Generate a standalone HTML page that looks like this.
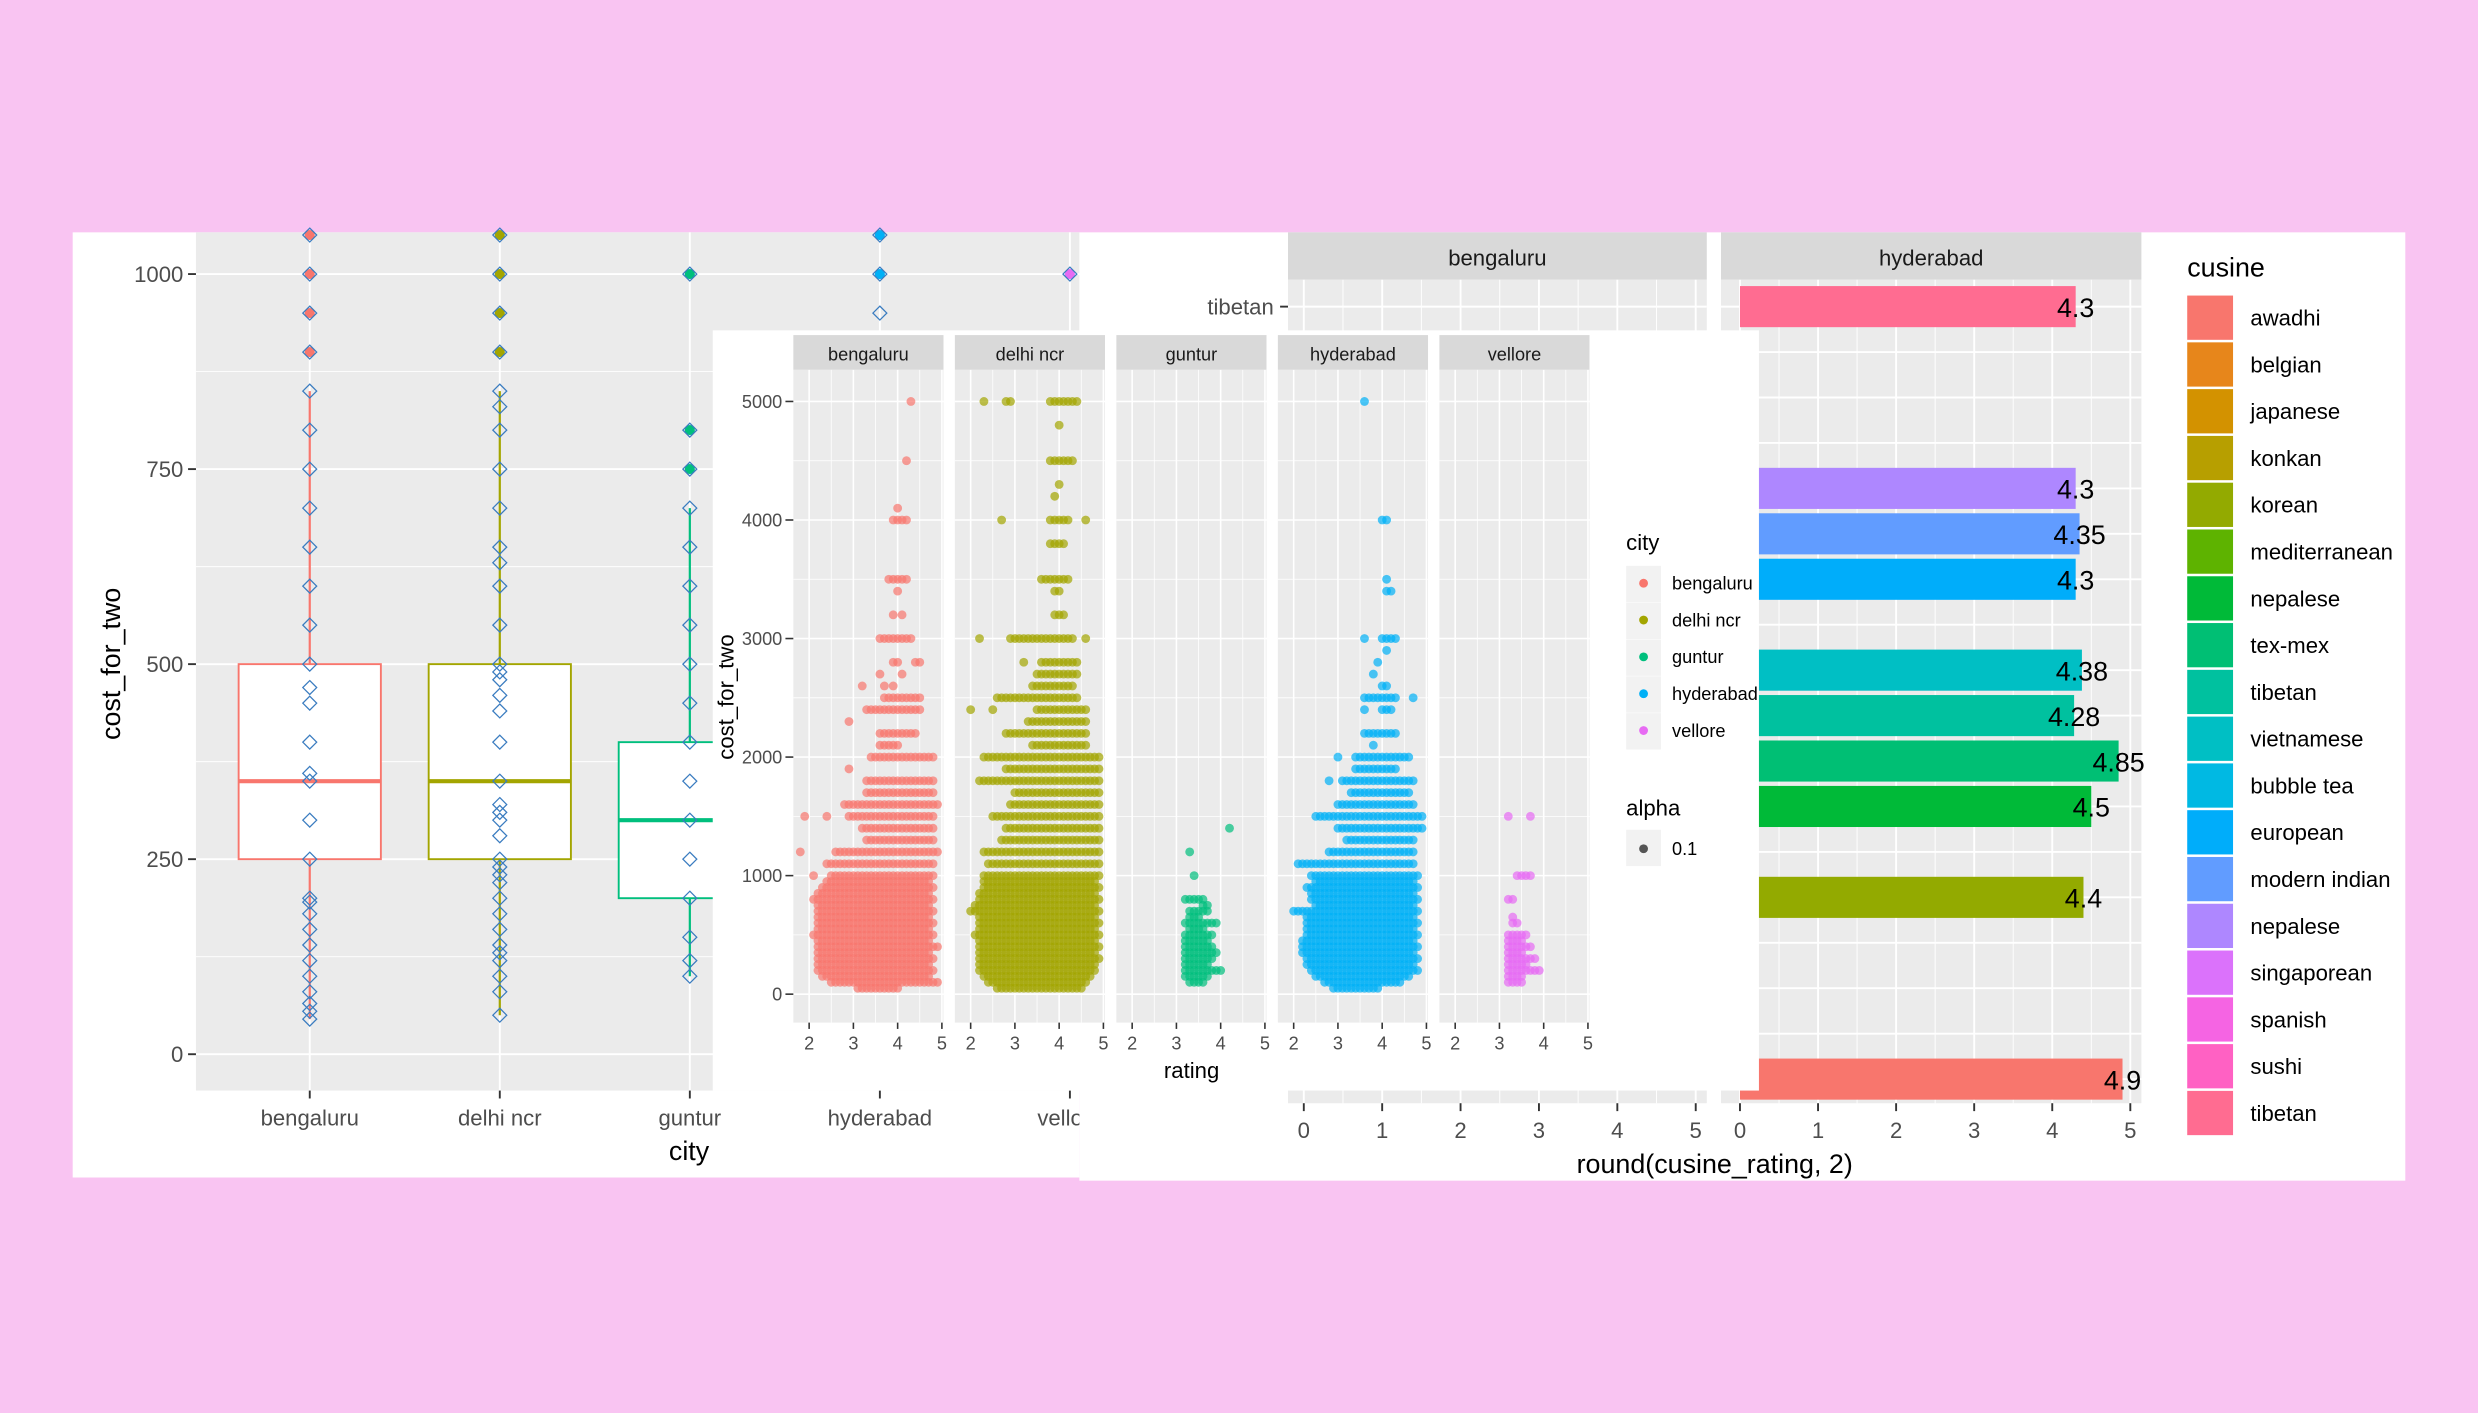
<!DOCTYPE html>
<html><head><meta charset="utf-8"><style>
html,body{margin:0;padding:0;background:#F9C4F2;}
svg{display:block;font-family:"Liberation Sans",Arial,sans-serif;}
</style></head><body>
<svg id="root" width="2478" height="1413" viewBox="0 0 1568 894" preserveAspectRatio="none">
<rect x="0" y="0" width="1568" height="894" fill="#F9C4F2"/>
<g id="box"></g>
<g id="bar"></g>
<g id="sc"></g>
</svg>
<script>
// ---------- boxplot data ----------
const boxCities=["bengaluru","delhi ncr","guntur","hyderabad","vellore"];
const boxColors=["#F8766D","#A3A500","#00BF7D","#00B0F6","#E76BF3"];
const boxQ1=[250,250,200,null,null];
const boxMed=[350,350,300,null,null];
const boxQ3=[500,500,400,null,null];
const boxLo=[45,50,100,null,null];
const boxHi=[850,850,700,950,null];
const boxOutliers=[[900,950,1000,1050],[900,950,1000,1050],[750,800,1000],[1000,1050],[1000]];
const boxDiamonds=[
 [1050,1000,950,900,850,800,750,700,650,600,550,500,470,450,400,360,350,300,250,200,195,180,160,140,120,100,80,65,55,45],
 [1050,1000,950,900,850,830,800,750,700,650,630,600,550,500,490,480,460,440,400,350,320,310,300,280,250,240,230,220,200,180,160,140,130,120,100,80,50],
 [1000,800,750,700,650,600,550,500,450,400,350,300,250,200,150,120,100],
 [1050,1000,950],[1000]];
const boxYTicks=[0,250,500,750,1000];

// ---------- scatter data: [cost, minRating, maxRating] rows (ratings at 0.1 resolution) ----------
const scCities=["bengaluru","delhi ncr","guntur","hyderabad","vellore"];
const scColors=["#F8766D","#A3A500","#00BF7D","#00B0F6","#E76BF3"];
const scBengaluru=[[5000,4.3,4.3],[4500,4.2,4.2],[4100,4.0,4.0],[4000,3.9,4.2],[3500,3.8,4.2],[3400,4.0,4.0],[3200,3.9,3.9],[3200,4.1,4.1],[3000,3.6,4.3],[2800,3.9,4.0],[2800,4.4,4.5],[2700,3.6,3.6],[2700,4.1,4.1],[2600,3.2,3.2],[2600,3.7,3.7],[2600,3.9,3.9],[2500,3.7,4.5],[2400,3.3,4.5],[2300,2.9,2.9],[2200,3.6,4.4],[2100,3.6,4.0],[2000,3.4,4.8],[1900,2.9,2.9],[1800,3.3,4.8],[1700,3.3,4.8],[1600,2.8,4.9],[1500,1.9,1.9],[1500,2.4,2.4],[1500,2.9,4.8],[1400,3.2,4.8],[1300,3.3,4.8],[1200,1.8,1.8],[1200,2.6,4.9],[1100,2.4,4.8],[1000,2.1,2.1],[1000,2.5,4.8],[950,2.4,4.7],[900,2.3,4.8],[850,2.2,4.7],[800,2.1,4.8],[750,2.2,4.7],[700,2.2,4.8],[650,2.2,4.7],[600,2.2,4.8],[550,2.2,4.7],[500,2.1,4.8],[450,2.2,4.7],[400,2.2,4.9],[350,2.2,4.7],[300,2.2,4.8],[250,2.2,4.7],[200,2.2,4.8],[150,2.3,4.7],[100,2.5,4.9],[50,3.1,4.0]];
const scDelhi=[[5000,2.3,2.3],[5000,2.8,2.9],[5000,3.8,4.4],[4800,4.0,4.0],[4500,3.8,4.3],[4300,4.0,4.0],[4200,3.9,3.9],[4000,2.7,2.7],[4000,3.8,4.2],[4000,4.6,4.6],[3800,3.8,4.1],[3500,3.6,4.2],[3400,3.9,4.0],[3200,3.9,4.1],[3000,2.2,2.2],[3000,2.9,4.3],[3000,4.6,4.6],[2800,3.2,3.2],[2800,3.6,4.4],[2700,3.5,4.4],[2600,3.4,4.3],[2500,2.6,4.4],[2400,2.0,2.0],[2400,2.5,2.5],[2400,3.5,4.6],[2300,3.3,4.6],[2200,2.8,4.6],[2100,3.4,4.6],[2000,2.3,4.9],[1900,2.8,4.9],[1800,2.2,4.9],[1700,3.0,4.9],[1600,2.9,4.9],[1500,2.5,4.9],[1400,2.8,4.9],[1300,2.7,4.9],[1200,2.3,4.9],[1100,2.4,4.9],[1000,2.3,4.9],[950,2.3,4.8],[900,2.3,4.9],[850,2.2,4.8],[800,2.2,4.9],[750,2.1,4.8],[700,2.0,4.9],[650,2.2,4.8],[600,2.2,4.9],[550,2.2,4.8],[500,2.1,4.9],[450,2.2,4.8],[400,2.2,4.9],[350,2.2,4.8],[300,2.2,4.9],[250,2.2,4.8],[200,2.2,4.8],[150,2.3,4.7],[100,2.4,4.6],[50,2.6,4.5]];
const scGuntur=[[1400,4.2,4.2],[1200,3.3,3.3],[1000,3.4,3.4],[800,3.2,3.6],[750,3.6,3.7],[700,3.3,3.7],[650,3.3,3.5],[600,3.2,3.9],[550,3.3,3.6],[500,3.2,3.8],[450,3.2,3.7],[400,3.2,3.8],[350,3.2,3.9],[300,3.2,3.8],[250,3.2,3.7],[200,3.2,4.0],[150,3.2,3.7],[100,3.3,3.6]];
const scHyderabad=[[5000,3.6,3.6],[4000,4.0,4.1],[3500,4.1,4.1],[3400,4.1,4.2],[3000,3.6,3.6],[3000,4.0,4.3],[2900,4.1,4.1],[2800,3.9,3.9],[2700,3.8,3.8],[2600,4.0,4.1],[2500,3.6,4.3],[2500,4.7,4.7],[2400,3.6,3.6],[2400,4.0,4.2],[2200,3.6,4.3],[2100,3.8,3.8],[2000,3.0,3.0],[2000,3.4,4.6],[1900,3.4,4.3],[1800,2.8,2.8],[1800,3.1,4.7],[1700,3.3,4.6],[1600,3.0,4.7],[1500,2.5,4.9],[1400,3.0,4.9],[1300,3.2,4.7],[1200,2.8,4.7],[1100,2.1,4.7],[1000,2.4,4.8],[950,2.5,4.7],[900,2.3,4.8],[850,2.4,4.7],[800,2.4,4.8],[750,2.5,4.7],[700,2.0,4.8],[650,2.3,4.7],[600,2.3,4.8],[550,2.3,4.7],[500,2.3,4.8],[450,2.2,4.7],[400,2.2,4.8],[350,2.2,4.7],[300,2.3,4.8],[250,2.3,4.7],[200,2.4,4.8],[150,2.5,4.6],[100,2.7,4.4],[50,2.9,3.9]];
const scVellore=[[1500,3.2,3.2],[1500,3.7,3.7],[1000,3.4,3.7],[800,3.2,3.3],[650,3.3,3.3],[600,3.3,3.4],[500,3.2,3.6],[450,3.2,3.5],[400,3.2,3.7],[350,3.2,3.5],[300,3.2,3.8],[250,3.2,3.6],[200,3.2,3.9],[150,3.2,3.5],[100,3.2,3.5]];
const scRows=[scBengaluru,scDelhi,scGuntur,scHyderabad,scVellore];
const scYTicks=[0,1000,2000,3000,4000,5000];
const scXTicks=[2,3,4,5];

// ---------- bar data ----------
const barRowLabels=["tibetan","","","","nepalese","modern indian","european","","vietnamese","tibetan","tex-mex","nepalese","","korean","","","","awadhi"];
const barRows=[0,4,5,6,8,9,10,11,13,17];
const barValues=[4.3,4.3,4.35,4.3,4.38,4.28,4.85,4.5,4.4,4.9];
const barLabels=["4.3","4.3","4.35","4.3","4.38","4.28","4.85","4.5","4.4","4.9"];
const barColors=["#FF6C91","#AE87FF","#619CFF","#00ADFA","#00BFC4","#00C19F","#00BF74","#00BA38","#93AA00","#F8766D"];
const barXTicks=[0,1,2,3,4,5];
const legCuisines=["awadhi","belgian","japanese","konkan","korean","mediterranean","nepalese","tex-mex","tibetan","vietnamese","bubble tea","european","modern indian","nepalese","singaporean","spanish","sushi","tibetan"];
const legColors=["#F8766D","#E7861B","#D39200","#B79F00","#93AA00","#5EB300","#00BA38","#00BF74","#00C19F","#00BFC4","#00B9E3","#00ADFA","#619CFF","#AE87FF","#DB72FB","#F564E3","#FF61C3","#FF6C91"];

const NS="http://www.w3.org/2000/svg";
function mk(parent,tag,attrs,text){const e=document.createElementNS(NS,tag);for(const k in attrs)e.setAttribute(k,attrs[k]);if(text!==undefined)e.textContent=text;parent.appendChild(e);return e;}

// ================= BOXPLOT =================
const B=document.getElementById('box');
const bx=i=>196+i*120.25;
const by=v=>667-v*0.4936;
let e;
e=mk(B,'rect',{x:46,y:147,width:637,height:598,fill:'#fff'});


e=mk(B,'rect',{x:124,y:147,width:559,height:543,fill:'#EBEBEB'});


[125,375,625,875].forEach(v=>mk(B,'line',{x1:124,x2:683,y1:by(v),y2:by(v),stroke:'#fff','stroke-width':0.6}));
boxYTicks.forEach(v=>{mk(B,'line',{x1:124,x2:683,y1:by(v),y2:by(v),stroke:'#fff','stroke-width':1.2});
 mk(B,'line',{x1:119,x2:124,y1:by(v),y2:by(v),stroke:'#333','stroke-width':1.2});
 e=mk(B,'text',{x:116,y:by(v)+5,'text-anchor':'end','font-size':14,fill:'#4D4D4D'},String(v));
 
 });
boxCities.forEach((c,i)=>{mk(B,'line',{x1:bx(i),x2:bx(i),y1:147,y2:690,stroke:'#fff','stroke-width':1.2});
 mk(B,'line',{x1:bx(i),x2:bx(i),y1:690,y2:695,stroke:'#333','stroke-width':1.2});
 e=mk(B,'text',{x:bx(i),y:712,'text-anchor':'middle','font-size':14,fill:'#4D4D4D'},c);
 
 });
boxCities.forEach((c,i)=>{const col=boxColors[i];
 if(boxHi[i]!==null){const lo=boxLo[i]!==null?boxLo[i]:boxHi[i];
  e=mk(B,'line',{x1:bx(i),x2:bx(i),y1:by(lo),y2:by(boxHi[i]),stroke:col,'stroke-width':1.4});
  
  }
 if(boxQ1[i]!==null){
  e=mk(B,'rect',{x:bx(i)-45,y:by(boxQ3[i]),width:90,height:by(boxQ1[i])-by(boxQ3[i]),fill:'#fff',stroke:col,'stroke-width':1.2});
  
  
  mk(B,'line',{x1:bx(i)-45,x2:bx(i)+45,y1:by(boxMed[i]),y2:by(boxMed[i]),stroke:col,'stroke-width':2.6});}
 boxOutliers[i].forEach(v=>{e=mk(B,'circle',{cx:bx(i),cy:by(v),r:3.2,fill:col});
  
  });
 boxDiamonds[i].forEach(v=>{const x=bx(i),y=by(v);
  e=mk(B,'polygon',{points:`${x},${y-4.4} ${x+4.4},${y} ${x},${y+4.4} ${x-4.4},${y}`,fill:'none',stroke:'#3A7CC0','stroke-width':0.8});
  
  });
});
e=mk(B,'text',{x:436,y:734,'text-anchor':'middle','font-size':17,fill:'#000'},'city');


e=mk(B,'text',{x:76,y:420,'text-anchor':'middle','font-size':17,fill:'#000',transform:'rotate(-90 76 420)'},'cost_for_two');



// ================= BAR CHART =================
const R=document.getElementById('bar');
e=mk(R,'rect',{x:683,y:147,width:839,height:600,fill:'#fff'});


const panels=[{name:'bengaluru',x0:815,x1:1080,z:825,s:49.6},{name:'hyderabad',x0:1089,x1:1355,z:1101,s:49.4}];
const ry=r=>194+r*28.75;
panels.forEach((p,pi)=>{
 e=mk(R,'rect',{x:p.x0,y:147,width:p.x1-p.x0,height:30,fill:'#D9D9D9'});
 
 
 mk(R,'text',{x:(p.x0+p.x1)/2,y:168,'text-anchor':'middle','font-size':14,fill:'#1A1A1A'},p.name);
 e=mk(R,'rect',{x:p.x0,y:177,width:p.x1-p.x0,height:521,fill:'#EBEBEB'});
 
 
 [0.5,1.5,2.5,3.5,4.5].forEach(v=>mk(R,'line',{x1:p.z+v*p.s,x2:p.z+v*p.s,y1:177,y2:698,stroke:'#fff','stroke-width':0.6}));
 barXTicks.forEach(v=>{mk(R,'line',{x1:p.z+v*p.s,x2:p.z+v*p.s,y1:177,y2:698,stroke:'#fff','stroke-width':1.2});
  mk(R,'line',{x1:p.z+v*p.s,x2:p.z+v*p.s,y1:698,y2:703,stroke:'#333','stroke-width':1.2});
  e=mk(R,'text',{x:p.z+v*p.s,y:720,'text-anchor':'middle','font-size':14,fill:'#4D4D4D'},String(v));
  
  });
 barRowLabels.forEach((l,r)=>mk(R,'line',{x1:p.x0,x2:p.x1,y1:ry(r),y2:ry(r),stroke:'#fff','stroke-width':1.2}));
 if(pi===1){barValues.forEach((v,k)=>{
  e=mk(R,'rect',{x:p.z,y:ry(barRows[k])-13,width:v*p.s,height:26,fill:barColors[k]});
  
  
  e=mk(R,'text',{x:p.z+v*p.s,y:ry(barRows[k])+6.5,'text-anchor':'middle','font-size':17,fill:'#000'},barLabels[k]);
  
  });}
});
barRowLabels.forEach((l,r)=>{if(!l)return;
 mk(R,'line',{x1:810,x2:815,y1:ry(r),y2:ry(r),stroke:'#333','stroke-width':1.2});
 e=mk(R,'text',{x:806,y:ry(r)+5,'text-anchor':'end','font-size':14,fill:'#4D4D4D'},l);
 
 });
e=mk(R,'text',{x:1085,y:742,'text-anchor':'middle','font-size':17,fill:'#000'},'round(cusine_rating, 2)');


e=mk(R,'text',{x:1384,y:175,'font-size':17,fill:'#000'},'cusine');


legCuisines.forEach((c,i)=>{const y=187+i*29.6;
 e=mk(R,'rect',{x:1384,y:y,width:29,height:28,fill:legColors[i]});
 
 
 e=mk(R,'text',{x:1424,y:y+19,'font-size':14,fill:'#000'},c);
 
 });

// ================= SCATTER =================
const S=document.getElementById('sc');
e=mk(S,'rect',{x:451,y:209,width:662,height:481,fill:'#fff'});


const sy=v=>629-v*0.075;
scCities.forEach((c,i)=>{const x0=502+i*102.2,w=95;const sx=r=>x0+10+(r-2)*28;
 e=mk(S,'rect',{x:x0,y:212,width:w,height:22,fill:'#D9D9D9'});
 
 
 mk(S,'text',{x:x0+w/2,y:228,'text-anchor':'middle','font-size':11.5,fill:'#1A1A1A'},c);
 e=mk(S,'rect',{x:x0,y:234,width:w,height:413,fill:'#EBEBEB'});
 
 
 [500,1500,2500,3500,4500].forEach(v=>mk(S,'line',{x1:x0,x2:x0+w,y1:sy(v),y2:sy(v),stroke:'#fff','stroke-width':0.5}));
 [2.5,3.5,4.5].forEach(v=>mk(S,'line',{x1:sx(v),x2:sx(v),y1:234,y2:647,stroke:'#fff','stroke-width':0.5}));
 scYTicks.forEach(v=>mk(S,'line',{x1:x0,x2:x0+w,y1:sy(v),y2:sy(v),stroke:'#fff','stroke-width':1}));
 scXTicks.forEach(v=>{mk(S,'line',{x1:sx(v),x2:sx(v),y1:234,y2:647,stroke:'#fff','stroke-width':1});
  mk(S,'line',{x1:sx(v),x2:sx(v),y1:647,y2:651,stroke:'#333','stroke-width':1});
  e=mk(S,'text',{x:sx(v),y:664,'text-anchor':'middle','font-size':11.5,fill:'#4D4D4D'},String(v));
  
  });
 const g=mk(S,'g',{fill:scColors[i],'fill-opacity':0.7});
 
 
 scRows[i].forEach(row=>{const n=Math.round((row[2]-row[1])*10);
  for(let k=0;k<=n;k++){const r=row[1]+k/10;
   const p=mk(g,'circle',{cx:sx(r),cy:sy(row[0]),r:2.8});
   
   }});
});
scYTicks.forEach(v=>{mk(S,'line',{x1:497,x2:502,y1:sy(v),y2:sy(v),stroke:'#333','stroke-width':1});
 e=mk(S,'text',{x:495,y:sy(v)+4,'text-anchor':'end','font-size':11.5,fill:'#4D4D4D'},String(v));
 
 });
e=mk(S,'text',{x:754,y:682,'text-anchor':'middle','font-size':14,fill:'#000'},'rating');


e=mk(S,'text',{x:464,y:441,'text-anchor':'middle','font-size':14,fill:'#000',transform:'rotate(-90 464 441)'},'cost_for_two');


e=mk(S,'text',{x:1029,y:348,'font-size':14,fill:'#000'},'city');


scCities.forEach((c,i)=>{const y=369+i*23.3;
 mk(S,'rect',{x:1029,y:y-11,width:22,height:23,fill:'#F2F2F2'});
 e=mk(S,'circle',{cx:1040,cy:y,r:2.8,fill:scColors[i]});
 
 
 e=mk(S,'text',{x:1058,y:y+4,'font-size':11.5,fill:'#000'},c);
 
 });
e=mk(S,'text',{x:1029,y:516,'font-size':14,fill:'#000'},'alpha');


mk(S,'rect',{x:1029,y:525,width:22,height:23,fill:'#F2F2F2'});
mk(S,'circle',{cx:1040,cy:537,r:2.8,fill:'#555'});
e=mk(S,'text',{x:1058,y:541,'font-size':11.5,fill:'#000'},'0.1');


</script>
</body></html>
